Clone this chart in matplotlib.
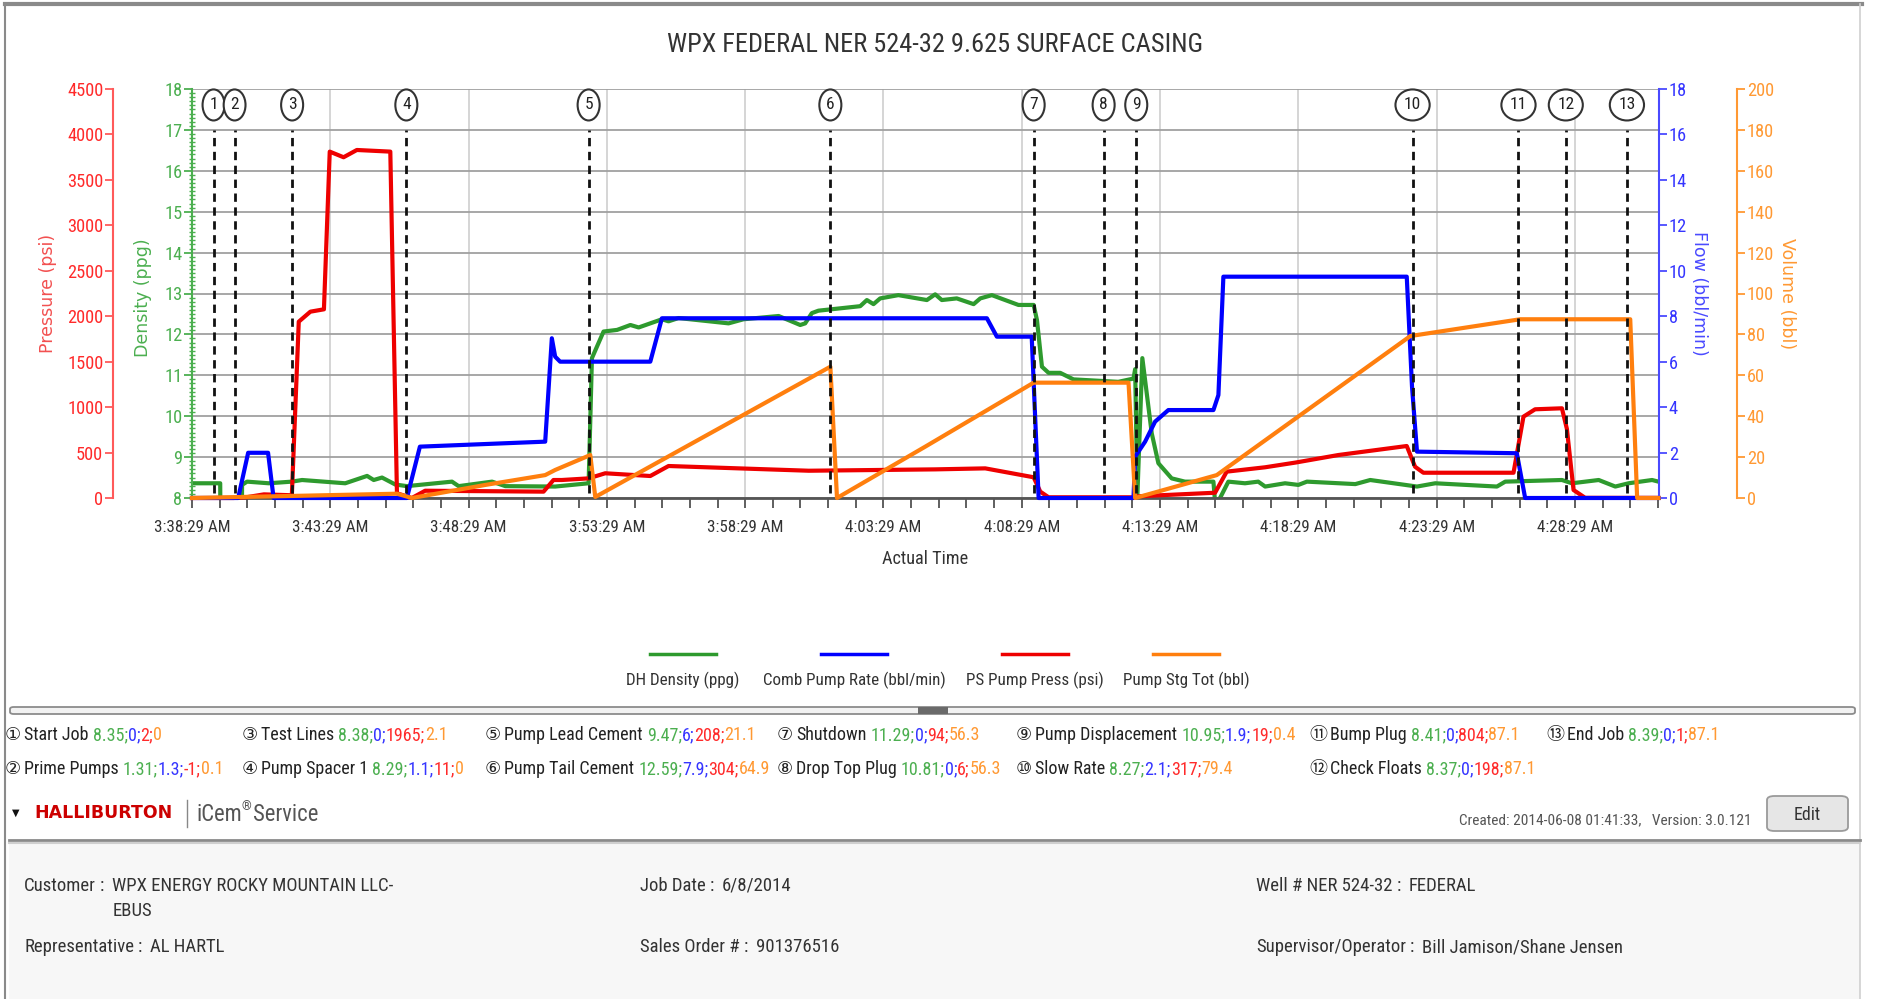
import datetime as dt
import matplotlib
matplotlib.use("Agg")
import matplotlib.pyplot as plt
from matplotlib.lines import Line2D
from matplotlib.patches import Rectangle, FancyBboxPatch
from matplotlib.ticker import MultipleLocator, FuncFormatter

W, H = 1894, 999
FONT = ['Roboto Condensed', 'Liberation Sans Narrow', 'DejaVu Sans Condensed', 'Roboto',
        'DejaVu Sans', 'Noto Sans CJK SC']
plt.rcParams['font.family'] = FONT

START = dt.datetime(2014, 6, 8, 3, 38, 29)

# all times are minutes after 3:38:29 AM
dens_t = [0, 1.02, 1.08, 1.75, 1.81, 1.99, 2.77, 3.61, 3.98, 5.54, 6.33, 6.57, 6.87, 7.35, 7.77,
          9.40, 9.64, 10.85, 11.33, 13.13, 14.34, 14.46, 14.88, 15.37, 15.85, 16.15, 16.99, 17.23,
          17.59, 19.40, 19.94, 21.21, 21.99, 22.17, 22.41, 22.65, 24.16, 24.40, 24.64, 24.88, 25.54,
          26.57, 26.87, 27.11, 27.65, 28.26, 28.50, 28.92, 29.88, 30.43, 30.55, 30.73, 30.97, 31.39,
          31.87, 33.49, 34.04, 34.10, 34.18, 34.36, 34.70, 34.94, 35.42, 35.90, 36.93, 36.99, 37.17,
          37.47, 38.07, 38.55, 38.80, 39.52, 40.00, 40.31, 42.06, 42.60, 44.29, 44.95, 47.18, 47.48,
          49.53, 49.89, 50.86, 51.46, 51.94, 52.79, 53.02]
dens_v = [8.36, 8.36, 1.31, 1.31, 8.32, 8.40, 8.36, 8.40, 8.44, 8.36, 8.54, 8.44, 8.50, 8.33, 8.29,
          8.40, 8.29, 8.40, 8.29, 8.28, 8.36, 11.42, 12.07, 12.11, 12.23, 12.17, 12.37, 12.32,
          12.40, 12.27, 12.37, 12.45, 12.23, 12.27, 12.52, 12.58, 12.69, 12.84, 12.74, 12.88, 12.96,
          12.84, 12.98, 12.84, 12.88, 12.74, 12.88, 12.96, 12.72, 12.72, 12.35, 11.21, 11.06, 11.06,
          10.90, 10.84, 10.92, 11.15, 8.05, 11.42, 9.58, 8.85, 8.48, 8.40, 8.40, 7.90, 8.00,
          8.40, 8.36, 8.40, 8.28, 8.36, 8.32, 8.40, 8.34, 8.44, 8.28, 8.36, 8.28, 8.40,
          8.44, 8.36, 8.44, 8.28, 8.36, 8.44, 8.40]

rate_t = [0, 1.67, 2.03, 2.75, 2.95, 7.77, 8.24, 12.77, 13.01, 13.13, 13.31, 16.57, 16.99, 28.74,
          29.10, 30.36, 30.61, 34.04, 34.10, 34.46, 34.82, 35.30, 36.93, 37.11, 37.29, 43.92, 44.11,
          44.29, 47.90, 48.20, 53.02]
rate_v = [0, 0, 1.99, 1.99, 0, 0, 2.26, 2.48, 7.03, 6.22, 6.0, 6.0, 7.91, 7.91,
          7.10, 7.10, 0, 0, 1.82, 2.48, 3.36, 3.87, 3.87, 4.53, 9.74, 9.74, 4.9,
          2.04, 1.97, 0, 0]

press_t = [0, 1.5, 2.0, 2.6, 3.61, 3.86, 4.28, 4.77, 4.98, 5.48, 5.96, 7.17, 7.41, 7.95, 8.43, 12.71,
           13.07, 13.37, 14.34, 14.94, 16.57, 17.23, 22.30, 26.87, 28.68, 30.43, 30.67, 30.97, 33.98,
           34.22, 36.99, 37.41, 38.80, 39.90, 41.45, 43.92, 44.22, 44.52, 47.78, 48.14, 48.56, 49.53,
           49.71, 49.95, 50.37, 53.02]
press_v = [0, 0, 10, 40, 30, 1940, 2050, 2076, 3811, 3749, 3829, 3811, 52, 0, 80, 70,
           198, 198, 216, 272, 242, 352, 300, 315, 326, 228, 70, 8, 8,
           19, 58, 290, 338, 390, 473, 572, 344, 278, 278, 895, 976, 987,
           760, 88, 2, 1]

vol_t = [0, 3.6, 7.41, 7.95, 10.61, 12.77, 13.13, 14.40, 14.58, 23.08, 23.32, 26.51, 30.43, 33.86,
         34.10, 37.05, 44.05, 48.02, 52.00, 52.25, 53.02]
vol_v = [0, 1.0, 2.1, 0, 6.4, 11.2, 13.7, 21.0, 0.5, 64.2, 0, 25.1, 56.4, 56.4,
         0, 11.2, 79.2, 87.4, 87.4, 0, 0]

event_t = [0.78, 1.54, 3.62, 7.75, 14.34, 23.08, 30.43, 32.96, 34.14, 44.13, 47.96, 49.67, 51.88]
event_names = ['Start Job', 'Prime Pumps', 'Test Lines', 'Pump Spacer 1', 'Pump Lead Cement',
               'Pump Tail Cement', 'Shutdown', 'Drop Top Plug', 'Pump Displacement', 'Slow Rate',
               'Bump Plug', 'Check Floats', 'End Job']
event_dens = ['8.35', '1.31', '8.38', '8.29', '9.47', '12.59', '11.29', '10.81', '10.95', '8.27',
              '8.41', '8.37', '8.39']
event_rate = ['0', '1.3', '0', '1.1', '6', '7.9', '0', '0', '1.9', '2.1', '0', '0', '0']
event_press = ['2', '-1', '1965', '11', '208', '304', '94', '6', '19', '317', '804', '198', '1']
event_vol = ['0', '0.1', '2.1', '0', '21.1', '64.9', '56.3', '56.3', '0.4', '79.4', '87.1', '87.1',
             '87.1']

series_names = ['DH Density (ppg)', 'Comb Pump Rate (bbl/min)', 'PS Pump Press (psi)',
                'Pump Stg Tot (bbl)']
line_cols = ['#2e9a2e', '#0000ff', '#ee0000', '#ff7f0e']
text_cols = ['#4caf50', '#3535ff', '#ff2a2a', '#ff9933']

info_left = [('Customer', 'WPX ENERGY ROCKY MOUNTAIN LLC-'), ('Representative', 'AL HARTL')]
info_mid = [('Job Date', '6/8/2014'), ('Sales Order #', '901376516')]
info_right = [('Well # NER 524-32', 'FEDERAL'), ('Supervisor/Operator', 'Bill Jamison/Shane Jensen')]

fig = plt.figure(figsize=(W / 100, H / 100), dpi=100, facecolor='white')
R = fig.canvas.get_renderer()


def fx(x):
    return x / W


def fy(y):
    return 1 - y / H


def width_of(s, size, family=None):
    t = fig.text(0, 0, s, fontsize=size, family=family or FONT)
    w = t.get_window_extent(R).width
    t.remove()
    return w


def fit(s, target, family=None, cap=None):
    # font size that makes s about target pixels wide
    size = 12 * target / width_of(s, 12, family)
    return min(size, cap) if cap else size


def runs(x, y, pieces, size, **kw):
    # pieces of text drawn one after another on the same baseline
    for s, c, gap in pieces:
        t = fig.text(fx(x), fy(y), s, color=c, fontsize=size, va='baseline', **kw)
        x += t.get_window_extent(R).width + gap
    return x


tick_size = fit('3:38:29 AM', 76, cap=13)
ytick_size = fit('4500', 36, cap=13.5)

# page frame
fig.add_artist(Rectangle((fx(9), fy(999)), fx(1851), 1 - 843 / H, transform=fig.transFigure,
                         fc='#f7f7f7', ec='none'))
fig.add_artist(Line2D([fx(5), fx(1862)], [fy(4), fy(4)], color='#8a8a8a', lw=3))
fig.add_artist(Line2D([fx(5), fx(5)], [fy(4), fy(999)], color='#8a8a8a', lw=1.5))
fig.add_artist(Line2D([fx(1860), fx(1860)], [fy(4), fy(999)], color='#d0d0d0', lw=1.2))

# chart
L, R_, T, B = 192, 1659, 89, 498
ax = fig.add_axes([fx(L), fy(B), (R_ - L) / W, (B - T) / H])
ax_p = ax.twinx()
ax_f = ax.twinx()
ax_v = ax.twinx()

ax.plot(dens_t, dens_v, color=line_cols[0], lw=3)
ax_p.plot(press_t, press_v, color=line_cols[2], lw=3, clip_on=False)
ax_f.plot(rate_t, rate_v, color=line_cols[1], lw=3, clip_on=False)
ax_v.plot(vol_t, vol_v, color=line_cols[3], lw=3, clip_on=False)

ax.set_xlim(0, 53.04)
ax.set_ylim(8, 18)
ax_p.set_ylim(0, 4500)
ax_f.set_ylim(0, 18)
ax_v.set_ylim(0, 200)

ax.xaxis.set_major_locator(MultipleLocator(5))
ax.xaxis.set_minor_locator(MultipleLocator(1))
ax.xaxis.set_major_formatter(FuncFormatter(
    lambda m, _: (START + dt.timedelta(minutes=m)).strftime('%-I:%M:%S %p')))
ax.tick_params(axis='x', which='both', direction='out', length=7, width=1.2, color='#444',
               labelsize=tick_size, labelcolor='#333', pad=9)
ax.grid(axis='y', color='#a0a0a0', lw=1.3)
ax.grid(axis='x', which='major', color='#d2d2d2', lw=1.3)
ax.set_axisbelow(True)
ax.set_xlabel('Actual Time', fontsize=fit('Actual Time', 86, cap=14), color='#333', labelpad=11)

for a in (ax, ax_p, ax_f, ax_v):
    for s in ('top', 'right', 'left', 'bottom'):
        a.spines[s].set_visible(False)
ax.spines['bottom'].set_visible(True)
ax.spines['bottom'].set_color('#555')
ax.spines['bottom'].set_linewidth(2)

# density (host, left)
ax.spines['left'].set_visible(True)
ax.spines['left'].set_color(text_cols[0])
ax.spines['left'].set_linewidth(1.5)
ax.yaxis.set_major_locator(MultipleLocator(1))
ax.yaxis.set_minor_locator(MultipleLocator(0.1))
ax.tick_params(axis='y', which='major', length=6, width=1.3, color=text_cols[0],
               labelcolor=text_cols[0], labelsize=ytick_size, pad=1)
ax.tick_params(axis='y', which='minor', direction='inout', length=4, width=1.0, color=text_cols[0])
ax.set_ylabel('Density (ppg)', color=text_cols[0], fontsize=12.5, family='DejaVu Sans')
ax.yaxis.set_label_coords((152 - L) / (R_ - L), 0.49)

# pressure (outer left)
ax_p.yaxis.tick_left()
ax_p.yaxis.set_label_position('left')
ax_p.spines['left'].set_visible(True)
ax_p.spines['left'].set_position(('axes', (113 - L) / (R_ - L)))
ax_p.spines['left'].set_color('#ff5a5a')
ax_p.spines['left'].set_linewidth(1.5)
ax_p.yaxis.set_major_locator(MultipleLocator(500))
ax_p.tick_params(axis='y', length=6, width=1.3, color='#ff5a5a', labelcolor=text_cols[2],
                 labelsize=ytick_size, pad=1)
ax_p.set_ylabel('Pressure (psi)', color='#f25050', fontsize=12.5, family='DejaVu Sans')
ax_p.yaxis.set_label_coords((57 - L) / (R_ - L), 0.5)

# flow (right)
ax_f.spines['right'].set_visible(True)
ax_f.spines['right'].set_color('#4a4aff')
ax_f.spines['right'].set_linewidth(1.5)
ax_f.yaxis.set_major_locator(MultipleLocator(2))
ax_f.tick_params(axis='y', length=6, width=1.3, color='#4a4aff', labelcolor=text_cols[1],
                 labelsize=ytick_size, pad=1)
ax_f.set_ylabel('Flow (bbl/min)', color='#4a4aff', fontsize=12.5, family='DejaVu Sans',
                rotation=-90, va='center')
ax_f.yaxis.set_label_coords((1699 - L) / (R_ - L), 0.5)

# volume (outer right)
ax_v.spines['right'].set_visible(True)
ax_v.spines['right'].set_position(('axes', (1737 - L) / (R_ - L)))
ax_v.spines['right'].set_color('#ff9933')
ax_v.spines['right'].set_linewidth(1.5)
ax_v.yaxis.set_major_locator(MultipleLocator(20))
ax_v.tick_params(axis='y', length=6, width=1.3, color='#ff9933', labelcolor=text_cols[3],
                 labelsize=ytick_size, pad=1)
ax_v.set_ylabel('Volume (bbl)', color='#ff9933', fontsize=12.5, family='DejaVu Sans',
                rotation=-90, va='center')
ax_v.yaxis.set_label_coords((1787 - L) / (R_ - L), 0.5)

# event markers
xt = ax_v.get_xaxis_transform()
for i, t in enumerate(event_t):
    ax_v.plot([t, t], [0.012, 0.90], transform=xt, color='#111', lw=2, ls=(0, (3, 2)),
              clip_on=False)
    ax_v.text(t, 0.961, str(i + 1), transform=xt, ha='center', va='center', fontsize=12.5,
              color='#222',
              bbox=dict(boxstyle='ellipse,pad=0.2', fc='white', ec='#333', lw=1.5))

# title
title = 'WPX FEDERAL NER 524-32 9.625 SURFACE CASING'
fig.text(fx(935), fy(45), title, ha='center', va='center', fontsize=fit(title, 532, cap=22),
         color='#333')

# legend
leg_x = [683, 854, 1035, 1186]
leg_size = fit(series_names[1], 183, cap=13)
for i, name in enumerate(series_names):
    fig.add_artist(Line2D([fx(leg_x[i] - 33), fx(leg_x[i] + 33)], [fy(654), fy(654)],
                          color=line_cols[i], lw=2.5))
    fig.text(fx(leg_x[i]), fy(680), name, ha='center', va='center', fontsize=leg_size,
             color='#333')

# separator bar
fig.add_artist(FancyBboxPatch((fx(10), fy(714)), fx(1845), 7 / H, transform=fig.transFigure,
                              boxstyle='round,pad=0,rounding_size=0.002', fc='#f2f2f2',
                              ec='#8c8c8c', lw=1.3))
fig.add_artist(Rectangle((fx(918), fy(714)), fx(30), 7 / H, transform=fig.transFigure,
                         fc='#6a6a6a', ec='none'))

# event table
col_x = [5, 242, 485, 777, 1016, 1309, 1546]
row_y = [740, 774]
tab_size = fit('\u2468 Pump Displacement 10.95;1.9;19;0.4', 280, cap=14)
for i, name in enumerate(event_names):
    x, y = col_x[i // 2], row_y[i % 2]
    runs(x, y, [(chr(0x2460 + i), '#222', 3), (name, '#222', 4),
                (event_dens[i] + ';', text_cols[0], 0), (event_rate[i] + ';', text_cols[1], 0),
                (event_press[i] + ';', text_cols[2], 0), (event_vol[i], text_cols[3], 0)],
         tab_size)

# footer header
fig.text(fx(12), fy(813), '\u25bc', fontsize=7, color='#111', va='center', family='DejaVu Sans')
fig.text(fx(34), fy(813), 'HALLIBURTON', fontsize=12.5, color='#cc0000', va='center',
         family='DejaVu Sans', weight='bold')
fig.add_artist(Line2D([fx(187), fx(187)], [fy(800), fy(827)], color='#888', lw=1))
ic_size = fit('iCem Service', 116, cap=18)
x = runs(196, 821, [('iCem', '#555', 0)], ic_size)
x = runs(x, 810, [('\u00ae', '#555', 2)], ic_size * 0.55)
runs(x, 821, [('Service', '#555', 0)], ic_size)
created = 'Created: 2014-06-08 01:41:33,   Version: 3.0.121'
fig.text(fx(1752), fy(820), created, ha='right', va='center', fontsize=fit(created, 292, cap=12),
         color='#555')
fig.add_artist(FancyBboxPatch((fx(1767), fy(831)), fx(81), 35 / H, transform=fig.transFigure,
                              boxstyle='round,pad=0,rounding_size=0.004', fc='#e6e6e6',
                              ec='#9a9a9a', lw=1.3))
fig.text(fx(1807), fy(815), 'Edit', ha='center', va='center', fontsize=fit('Edit', 27, cap=14),
         color='#333')
fig.add_artist(Line2D([fx(9), fx(1860)], [fy(840), fy(840)], color='#8a8a8a', lw=2))
fig.add_artist(Line2D([fx(9), fx(1860)], [fy(842.5), fy(842.5)], color='#cfcfcf', lw=1.5))

# job info
info_size = fit('Customer : WPX ENERGY ROCKY MOUNTAIN LLC-', 365, cap=14)
for col, items in zip([24, 640, 1256], [info_left, info_mid, info_right]):
    for j, (k, v) in enumerate(items):
        y = [891, 952][j]
        xv = runs(col, y, [(k, '#333', 4), (':', '#333', 8)], info_size)
        runs(xv, y, [(v, '#333', 0)], info_size)
        if j == 0 and col == 24:
            runs(xv, y + 25, [('EBUS', '#333', 0)], info_size)

fig.savefig('out.png', dpi=100, facecolor='white')
